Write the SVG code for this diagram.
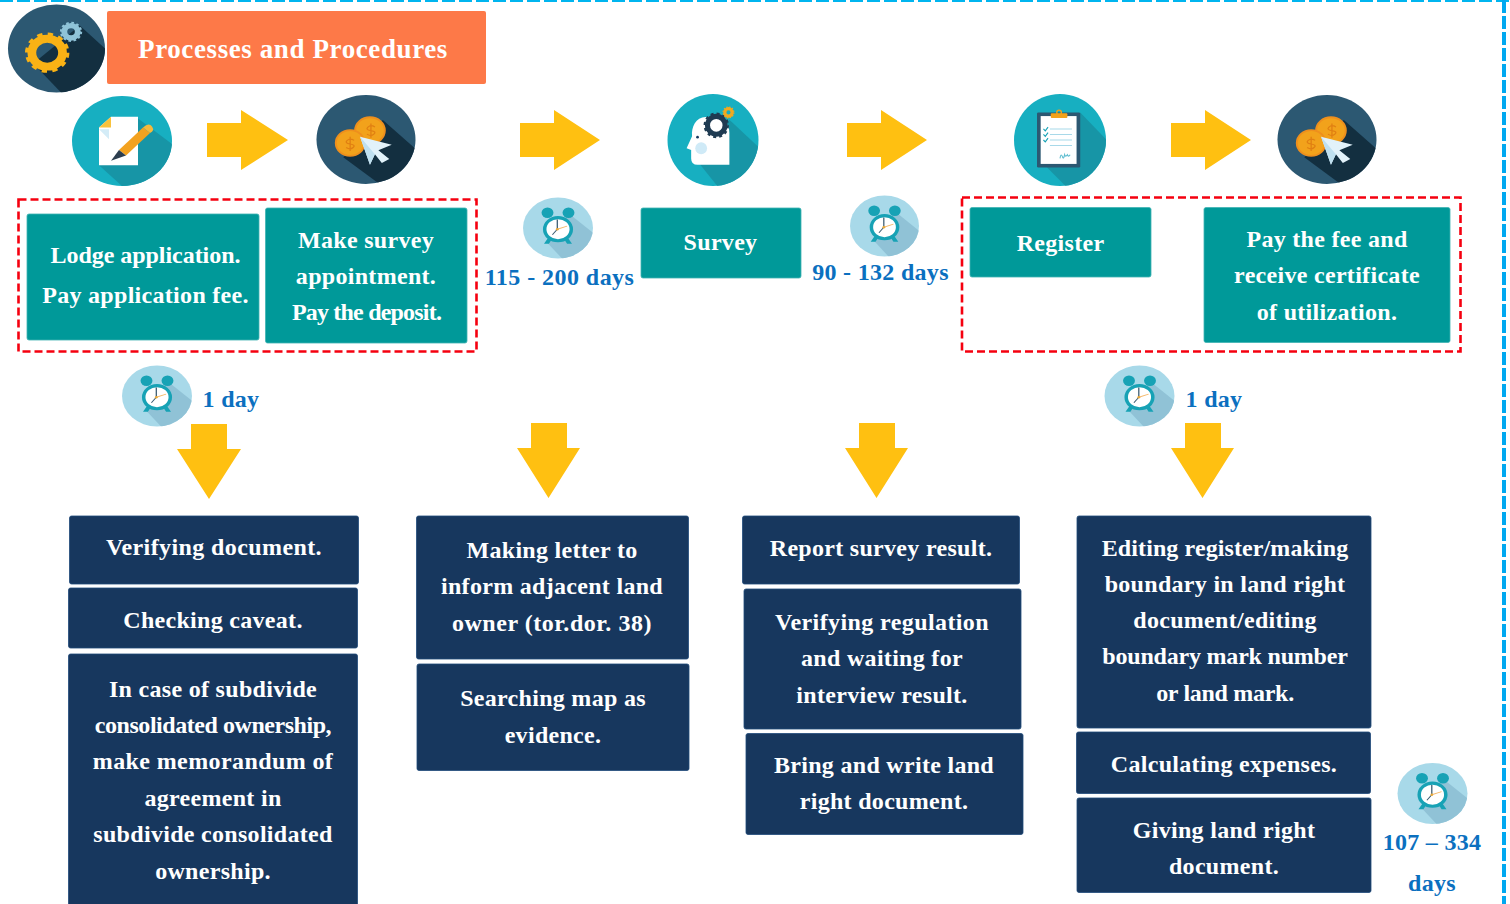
<svg xmlns="http://www.w3.org/2000/svg" width="1510" height="904" viewBox="0 0 1510 904">
<style>
text{font-family:"Liberation Serif","Times New Roman",serif;font-weight:700;text-anchor:middle}
.w{fill:#fff;font-size:24px;letter-spacing:.3px}
.b{fill:#0b70bf;font-size:24px;letter-spacing:.3px}
.teal{fill:#009999;stroke:#3fb3b3;stroke-width:.8}
.navy{fill:#17375e;stroke:#1f4a7a;stroke-width:.8}
.red{fill:none;stroke:#f5000f;stroke-width:2.600;stroke-dasharray:8 4}
.arrow{fill:#ffc011}
</style>
<defs>
<clipPath id="cc"><circle r="50"/></clipPath>
<g id="gear" fill="none">
<circle r="14" stroke-width="8"/>
<circle r="18.500" stroke-width="3.500" stroke-dasharray="4.840 4.840"/>
</g>
<g id="gear-small" fill="none">
<circle r="12.500" stroke-width="11"/>
<circle r="18.500" stroke-width="4" stroke-dasharray="4.840 4.840"/>
</g>
<g id="dollar" fill="none" stroke="#e07f12" stroke-width="1.300">
<path d="M4 -4Q0 -7 -3 -4T0 0T3 4T-4 4M0 -8V8"/>
</g>
<g id="coins">
<circle r="50" fill="#2c5872"/>
<path clip-path="url(#cc)" d="M-23 20L17 -22L70 30V70H38Z" fill="#132f40"/>
<circle cx="4" cy="-10" r="15" fill="#f2a21b" stroke="#ee8f1d" stroke-width="2"/>
<use href="#dollar" x="5" y="-10"/>
<circle cx="-16" cy="4" r="14.500" fill="#f2a21b" stroke="#ee8f1d" stroke-width="2"/>
<use href="#dollar" x="-16" y="5"/>
<path d="M-6 -3L26 6L12.500 12L23.500 22L16 26.500L9 16.500L4 28.500Z" fill="#e2f2fa"/>
<path d="M-6 -3L9 16.500L4 28.500Z" fill="#bfe0f0"/>
</g>
<g id="clock">
<circle r="50" fill="#a8d9e9"/>
<path clip-path="url(#cc)" d="M-17 22L15 -24L70 26V70H22Z" fill="#90c2d6"/>
<circle cx="-15" cy="-25" r="8.500" fill="#17a2b5"/>
<circle cx="15" cy="-25" r="8.500" fill="#17a2b5"/>
<path d="M-14 16l-6 10h7l4-7zM14 16l6 10h-7l-4-7z" fill="#17a2b5"/>
<circle cy="2" r="19" fill="#fff" stroke="#17a2b5" stroke-width="5"/>
<path d="M-1 2V-14" stroke="#38596f" stroke-width="1.800"/>
<path d="M-1 2L-8 11" stroke="#38596f" stroke-width="1.500"/>
<path d="M-1 2L13 -3" stroke="#f4b96b" stroke-width="1.500"/>
<circle cx="-1" cy="2" r="2" fill="#e8a93a"/>
</g>
</defs>

<g id="frame">
<path d="M0 1H1510" stroke="#00b5ef" stroke-width="2.200" stroke-dasharray="13 4" fill="none"/>
<path d="M1504 0V904" stroke="#00a8f0" stroke-width="4" stroke-dasharray="13 3" fill="none"/>
</g>

<g id="title-icon" transform="translate(56.500 48.500) scale(.97 .88)">
<circle r="50" fill="#2c5872"/>
<path clip-path="url(#cc)" d="M-24 17L24 -26L70 20V70H22Z" fill="#132f40"/>
<use href="#gear" stroke="#f9b215" transform="translate(-9.600 4.800) scale(1.130)"/>
<use href="#gear-small" stroke="#8fc3d8" transform="translate(15 -19) scale(.560)"/>
</g>
<g id="title">
<rect x="107" y="11" width="379" height="73" rx="2" fill="#fd7948"/>
<text class="w" x="293" y="58" style="font-size:27px;letter-spacing:.6px">Processes and Procedures</text>
</g>

<g id="connectors">
<path class="arrow" d="M207 123H241V110L288 140L241 170V157H207Z"/>
<path class="arrow" d="M520 123H554V110L600 140L554 170V157H520Z"/>
<path class="arrow" d="M847 123H881V110L927 140L881 170V157H847Z"/>
<path class="arrow" d="M1171 123H1205V110L1251 140L1205 170V157H1171Z"/>
<path class="arrow" d="M191 424H227V449H241L209 499L177 449H191Z"/>
<path class="arrow" d="M531 423H567V448H580L548.500 498L517 448H531Z"/>
<path class="arrow" d="M859 423H895V448H908L876.500 498L845 448H859Z"/>
<path class="arrow" d="M1185 423H1221V448H1234L1202.500 498L1171 448H1185Z"/>
</g>

<g id="icon-lodge" transform="translate(122 141) scale(1 .9)">
<circle r="50" fill="#17afc1"/>
<path clip-path="url(#cc)" d="M-23 27L16 -25L70 20V70H20Z" fill="#1795a6"/>
<path d="M-11 -27H16V27H-23V-15Z" fill="#fff"/>
<path d="M-23 -15L-11 -27V-15Z" fill="#f9c23c"/>
<path d="M-23 -13H-13V-2Z" fill="#d4ecf7"/>
<path d="M-3 10L21 -15L28 -9L4 16Z" fill="#f3a21f"/>
<path d="M21 -15Q27 -21 30 -16T28 -9Z" fill="#f6b93b"/>
<path d="M-3 10L-11 22L4 16Z" fill="#2c3e4f"/>
</g>
<g id="icon-pay1" transform="translate(366 139.500) scale(.99 .89)"><use href="#coins"/></g>
<g id="icon-survey" transform="translate(713 140) scale(.91 .92)">
<circle r="50" fill="#17afc1"/>
<path clip-path="url(#cc)" d="M-14 27L18 -22L70 26V70H21Z" fill="#1795a6"/>
<path d="M-8 -25C-19 -25 -24 -14 -23 -4L-29 9L-24 11V20Q-24 27 -17 27H18V-8Q18 -25 -8 -25Z" fill="#fff"/>
<circle cx="-13" cy="9" r="6.500" fill="#cfeaf7"/>
<circle cx="-17" cy="-3" r="1.500" fill="#17375e"/>
<use href="#gear" stroke="#1f3b52" transform="translate(3.600 -16) scale(.690)"/>
<use href="#gear-small" stroke="#f1a91e" transform="translate(17 -30) scale(.320)"/>
</g>
<g id="icon-register" transform="translate(1060 140) scale(.92)">
<circle r="50" fill="#17afc1"/>
<path clip-path="url(#cc)" d="M-14 30L22 -30L70 20V70H26Z" fill="#1795a6"/>
<rect x="-25" y="-30" width="47" height="60" rx="1.500" fill="#2c5872"/>
<rect x="-21" y="-26" width="39" height="52" fill="#fff"/>
<rect x="-10" y="-29" width="18" height="5" rx="1" fill="#f2a21b"/>
<circle cx="-1" cy="-30" r="2.500" fill="none" stroke="#f2a21b" stroke-width="1.500"/>
<path d="M-11 -12H13M-11 -6H13M-11 0H13M-11 6H13" stroke="#a8d9e9" stroke-width="1.200"/>
<path d="M-18 -12l2 2 3-4M-18 -6l2 2 3-4M-18 0l2 2 3-4" stroke="#17a2b5" stroke-width="1.200" fill="none"/>
<path d="M0 20q1-7 3-1 1 2 2-3 1 3 3 0 1 3 3 0" stroke="#5dbdd0" stroke-width="1.200" fill="none"/>
</g>
<g id="icon-pay2" transform="translate(1327 139.500) scale(.99 .89)"><use href="#coins"/></g>

<g id="group-left"><rect class="red" x="18.500" y="199.500" width="458" height="152"/></g>
<g id="group-right"><rect class="red" x="962" y="197.500" width="498.500" height="154"/></g>

<g id="n-lodge"><rect class="teal" x="27" y="214" width="232" height="126" rx="2"/>
<text class="w" x="145.500" y="263" style="letter-spacing:-.05px">Lodge application.</text><text class="w" x="145.500" y="303">Pay application fee.</text></g>
<g id="n-appointment"><rect class="teal" x="265.500" y="208" width="201.500" height="135" rx="2"/>
<text class="w" x="366" y="248">Make survey</text><text class="w" x="366" y="284">appointment.</text><text class="w" x="366.500" y="320" style="letter-spacing:-.8px">Pay the deposit.</text></g>
<g id="n-survey"><rect class="teal" x="641" y="208" width="160" height="70" rx="2"/>
<text class="w" x="720.500" y="250">Survey</text></g>
<g id="n-register"><rect class="teal" x="970" y="207.500" width="181" height="69.500" rx="2"/>
<text class="w" x="1060.500" y="251">Register</text></g>
<g id="n-pay"><rect class="teal" x="1204" y="207.500" width="246" height="135" rx="2"/>
<text class="w" x="1327" y="247">Pay the fee and</text><text class="w" x="1327" y="283">receive certificate</text><text class="w" x="1327" y="320">of utilization.</text></g>

<g id="t-115"><use href="#clock" transform="translate(558 228) scale(.7 .61)"/><text class="b" x="559.500" y="285" style="letter-spacing:.45px">115 - 200 days</text></g>
<g id="t-90"><use href="#clock" transform="translate(884.500 226) scale(.69 .61)"/><text class="b" x="880.500" y="280">90 - 132 days</text></g>
<g id="t-1a"><use href="#clock" transform="translate(157 396) scale(.7 .61)"/><text class="b" x="231" y="407">1 day</text></g>
<g id="t-1b"><use href="#clock" transform="translate(1139.500 396) scale(.7 .61)"/><text class="b" x="1214" y="407">1 day</text></g>
<g id="t-107"><use href="#clock" transform="translate(1432.500 793.500) scale(.7 .61)"/><text class="b" x="1432" y="850">107 – 334</text><text class="b" x="1432" y="891">days</text></g>

<g id="n-verify"><rect class="navy" x="69.500" y="516" width="289" height="68" rx="2"/><text class="w" x="214" y="555" style="letter-spacing:.4px">Verifying document.</text></g>
<g id="n-caveat"><rect class="navy" x="68.500" y="588" width="289" height="60" rx="2"/><text class="w" x="213" y="628">Checking caveat.</text></g>
<g id="n-memo"><rect class="navy" x="68.500" y="654" width="289" height="260" rx="2"/>
<text class="w" x="213" y="697">In case of subdivide</text><text class="w" x="213" y="733" style="letter-spacing:-.45px">consolidated ownership,</text><text class="w" x="213" y="769" style="letter-spacing:.4px">make memorandum of</text><text class="w" x="213" y="806">agreement in</text><text class="w" x="213" y="842">subdivide consolidated</text><text class="w" x="213" y="879">ownership.</text></g>
<g id="n-letter"><rect class="navy" x="416.500" y="516" width="272" height="143" rx="2"/>
<text class="w" x="552" y="558">Making letter to</text><text class="w" x="552" y="594">inform adjacent land</text><text class="w" x="552" y="631" style="letter-spacing:.55px">owner (tor.dor. 38)</text></g>
<g id="n-map"><rect class="navy" x="417" y="664" width="272" height="106.500" rx="2"/>
<text class="w" x="553" y="706">Searching map as</text><text class="w" x="553" y="743">evidence.</text></g>
<g id="n-report"><rect class="navy" x="742.500" y="516" width="277" height="68" rx="2"/><text class="w" x="881" y="556">Report survey result.</text></g>
<g id="n-regulation"><rect class="navy" x="744" y="589" width="277" height="140" rx="2"/>
<text class="w" x="882" y="630" style="letter-spacing:.4px">Verifying regulation</text><text class="w" x="882" y="666">and waiting for</text><text class="w" x="882" y="703">interview result.</text></g>
<g id="n-bring"><rect class="navy" x="746" y="733.500" width="277" height="101" rx="2"/>
<text class="w" x="884" y="773">Bring and write land</text><text class="w" x="884" y="809">right document.</text></g>
<g id="n-edit"><rect class="navy" x="1077" y="516" width="294" height="212" rx="2"/>
<text class="w" x="1225" y="556" style="letter-spacing:.1px">Editing register/making</text><text class="w" x="1225" y="592">boundary in land right</text><text class="w" x="1225" y="628">document/editing</text><text class="w" x="1225" y="664" style="letter-spacing:-.2px">boundary mark number</text><text class="w" x="1225" y="701" style="letter-spacing:-.3px">or land mark.</text></g>
<g id="n-expenses"><rect class="navy" x="1076.500" y="732" width="294" height="61.500" rx="2"/><text class="w" x="1224" y="772">Calculating expenses.</text></g>
<g id="n-giving"><rect class="navy" x="1077" y="798" width="294" height="94.500" rx="2"/>
<text class="w" x="1224" y="838">Giving land right</text><text class="w" x="1224" y="874">document.</text></g>
</svg>
